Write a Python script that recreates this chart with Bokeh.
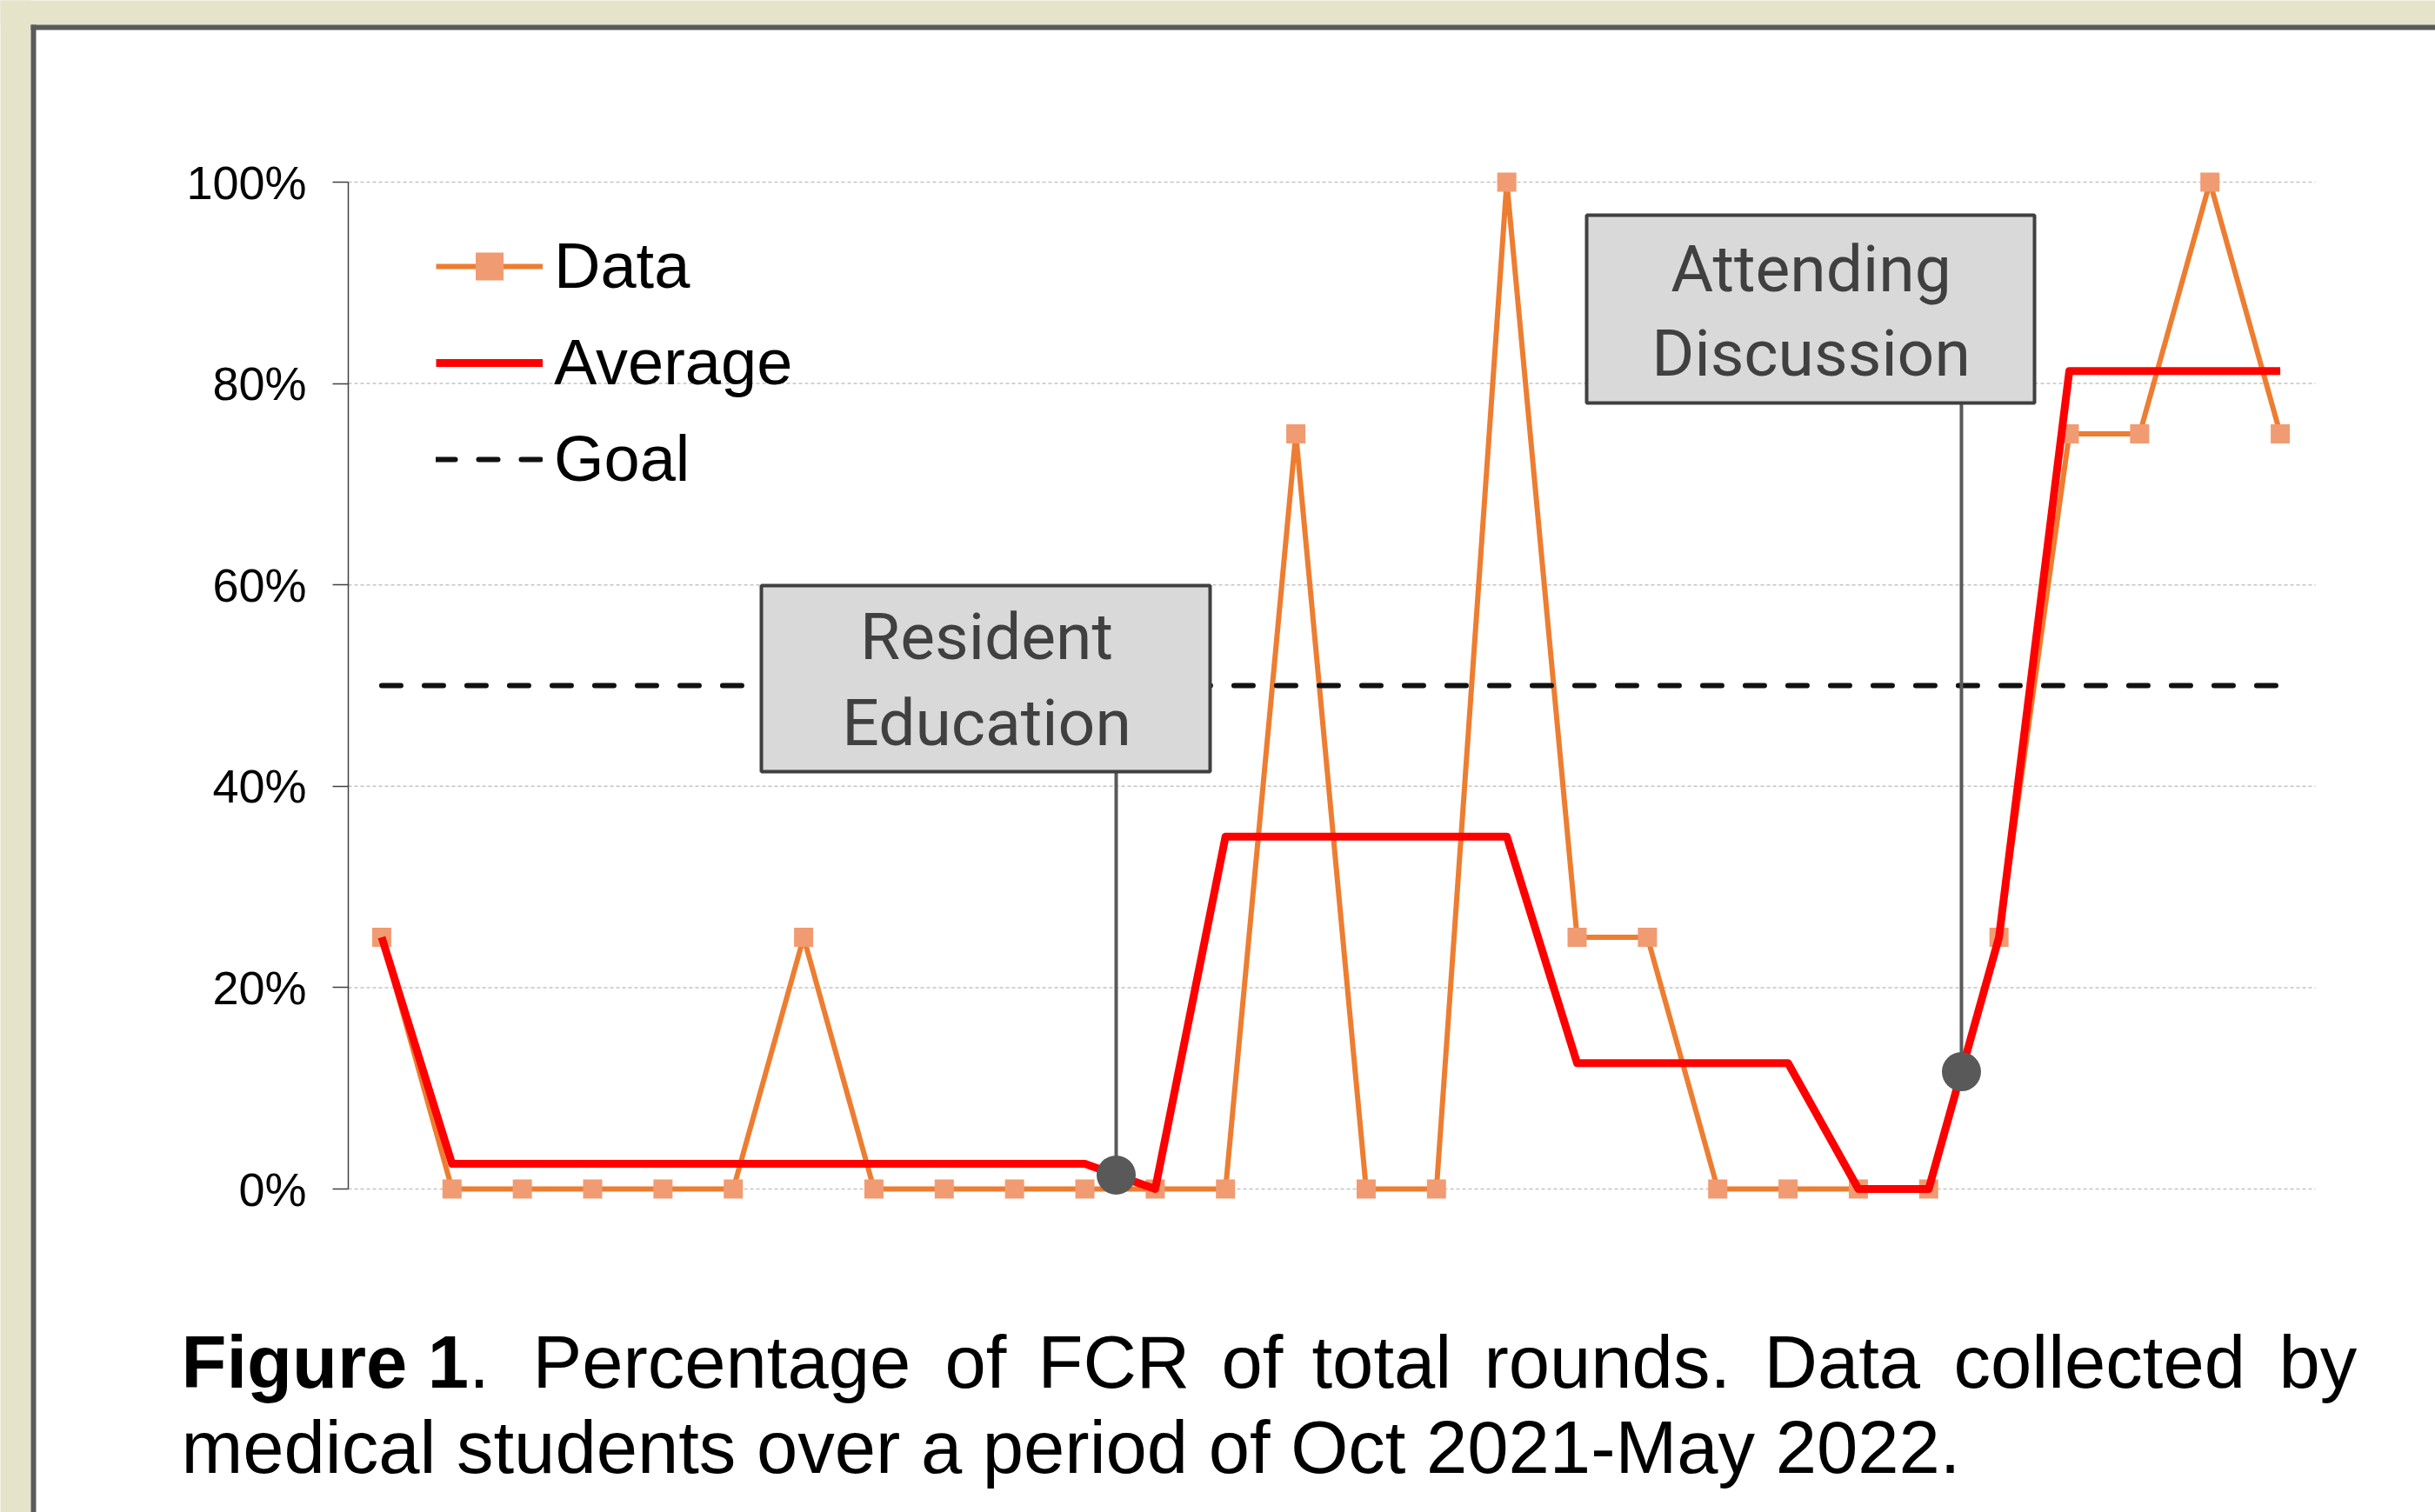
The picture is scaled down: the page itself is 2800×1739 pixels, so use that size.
import numpy as np
from bokeh.plotting import figure
from bokeh.models import (Range1d, FixedTicker, NumeralTickFormatter, Label,
                          BoxAnnotation, Legend, LegendItem)
from bokeh.embed import file_html
from bokeh.resources import INLINE

# ---------------- data ----------------
rounds = list(range(1, 29))
data_pct = [25, 0, 0, 0, 0, 0, 25, 0, 0, 0, 0, 0, 0, 75, 0, 0, 100,
            25, 25, 0, 0, 0, 0, 25, 75, 75, 100, 75]
avg_pct = [25, 2.5, 2.5, 2.5, 2.5, 2.5, 2.5, 2.5, 2.5, 2.5, 2.5, 0,
           35, 35, 35, 35, 35, 12.5, 12.5, 12.5, 12.5, 0, 0, 25,
           81.25, 81.25, 81.25, 81.25]
goal_pct = 50
y_ticks_pct = [0, 20, 40, 60, 80, 100]
legend_labels = ["Data", "Average", "Goal"]
callout_texts = [["Resident", "Education"], ["Attending", "Discussion"]]
callout_rounds = [11.445, 23.466]
caption_line1 = [("Figure 1", True), (".", False), ("Percentage", False),
                 ("of", False), ("FCR", False), ("of", False), ("total", False),
                 ("rounds.", False), ("Data", False), ("collected", False),
                 ("by", False)]
caption_line2 = "medical students over a period of Oct 2021-May 2022."

data = [v / 100 for v in data_pct]
avg = [v / 100 for v in avg_pct]
goal = [goal_pct / 100] * len(rounds)
ticks = [t / 100 for t in y_ticks_pct]

# ---------------- layout (page pixels of the reference) ----------------
W, H = 2800, 1739
XL, XR = 398, 2662          # half a round outside the first / last round
AX_X = 400                  # y-axis line position
Y0, Y100 = 1367, 209        # page y of 0% and 100%


def ux(X):
    return 0.5 + (X - XL) / (XR - XL) * len(rounds)


def uy(Y):
    return (Y0 - Y) / (Y0 - Y100)


BEIGE = "#E5E4CA"
FRAME_GRAY = "#5A5A5A"

p = figure(width=W, height=H, x_range=Range1d(ux(0), ux(W)),
           y_range=Range1d(uy(H), uy(0)),
           x_axis_location=None, y_axis_location="left",
           toolbar_location=None, output_backend="svg", title=None,
           min_border=0)
p.outline_line_color = None
p.background_fill_color = "white"
p.border_fill_color = "white"
p.grid.visible = False

ax = p.yaxis[0]
ax.fixed_location = ux(AX_X)
ax.ticker = FixedTicker(ticks=ticks)
ax.formatter = NumeralTickFormatter(format="0%")
ax.bounds = (0, 1)
ax.major_label_text_font = "Liberation Sans"
ax.major_label_text_font_size = "54px"
ax.major_label_text_color = "black"
ax.major_label_standoff = 30
ax.major_tick_out = 18
ax.major_tick_in = 0
ax.major_tick_line_color = "#404040"
ax.major_tick_line_width = 1.5
ax.minor_tick_line_color = None
ax.axis_line_color = "#404040"
ax.axis_line_width = 1.5

# horizontal gridlines, limited to the plotting area
p.segment(x0=[ux(AX_X)] * len(ticks), y0=ticks, x1=[ux(XR)] * len(ticks),
          y1=ticks, line_color="#C4C4C4", line_dash="4 3", line_width=1.5)

# ---------------- series ----------------
r_data_line = p.line(rounds, data, line_color="#ED7D31", line_width=6)
r_data_pts = p.scatter(rounds, data, marker="square", size=22,
                       fill_color="#F19B72", line_color=None)
r_avg = p.line(rounds, avg, line_color="#FF0000", line_width=9,
               line_join="round")
r_goal = p.line(rounds, goal, line_color="#111111", line_width=6,
                line_dash="22 27", line_cap="round")

legend = Legend(items=[
    LegendItem(label=legend_labels[0], renderers=[r_data_line, r_data_pts]),
    LegendItem(label=legend_labels[1], renderers=[r_avg]),
    LegendItem(label=legend_labels[2], renderers=[r_goal]),
], location=(501, H - 570))
legend.glyph_width = 123
legend.glyph_height = 80
legend.label_height = 80
legend.label_standoff = 13
legend.spacing = 26
legend.padding = 0
legend.margin = 0
legend.border_line_color = None
legend.background_fill_alpha = 0
legend.label_text_font = "Liberation Sans"
legend.label_text_font_size = "74px"
legend.label_text_color = "black"
p.add_layout(legend)

# ---------------- callouts ----------------
CALLOUT_FONT = 75
boxes_px = [(875, 1391, 673, 887), (1824, 2339, 247, 463)]
text_cx_px = [1134, 2082]
text_base_px = [(757, 856), (334, 431)]
for i, (l, r, t, b) in enumerate(boxes_px):
    cx = callout_rounds[i]
    cy = float(np.interp(cx, rounds, avg))
    p.segment(x0=[cx], y0=[cy], x1=[cx], y1=[uy(b)], line_color="#595959",
              line_width=4)
    p.scatter([cx], [cy], marker="circle", size=45, fill_color="#595959",
              line_color=None)
    p.quad(left=[ux(l)], right=[ux(r)], top=[uy(t)], bottom=[uy(b)],
           fill_color="#D9D9D9", line_color="#404040", line_width=4)
    for line_txt, base in zip(callout_texts[i], text_base_px[i]):
        p.add_layout(Label(x=ux(text_cx_px[i]),
                           y=uy(base - 0.342 * CALLOUT_FONT),
                           text=line_txt, text_align="center",
                           text_baseline="middle", text_font="Roboto",
                           text_font_size="%dpx" % CALLOUT_FONT,
                           text_color="#404040"))

# ---------------- caption ----------------
CAP_FONT = 85
cap_mid = 0.3465 * CAP_FONT
line1_x_px = [208, 538.7, 612, 1086, 1193, 1404, 1508, 1706,
              2028, 2246, 2620]
for (word, bold), X in zip(caption_line1, line1_x_px):
    p.add_layout(Label(x=ux(X), y=uy(1595 - cap_mid), text=word,
                       text_align="left", text_baseline="middle",
                       text_font="Liberation Sans",
                       text_font_size="%dpx" % CAP_FONT, text_color="black",
                       text_font_style="bold" if bold else "normal"))
p.add_layout(Label(x=ux(208), y=uy(1693 - cap_mid), text=caption_line2,
                   text_align="left", text_baseline="middle",
                   text_font="Liberation Sans",
                   text_font_size="%dpx" % CAP_FONT, text_color="black"))

# ---------------- page panel (beige margin + dark frame) ----------------
for (l, r, t, b, c) in [(-60, 2900, -60, 28, BEIGE), (-60, 35, -60, 1800, BEIGE),
                        (35, 2900, 28, 34, FRAME_GRAY),
                        (35, 41, 28, 1800, FRAME_GRAY)]:
    p.add_layout(BoxAnnotation(left=ux(l), right=ux(r), top=uy(t),
                               bottom=uy(b), fill_color=c, fill_alpha=1,
                               line_color=None))

open("out.html", "w").write(file_html(p, INLINE))
